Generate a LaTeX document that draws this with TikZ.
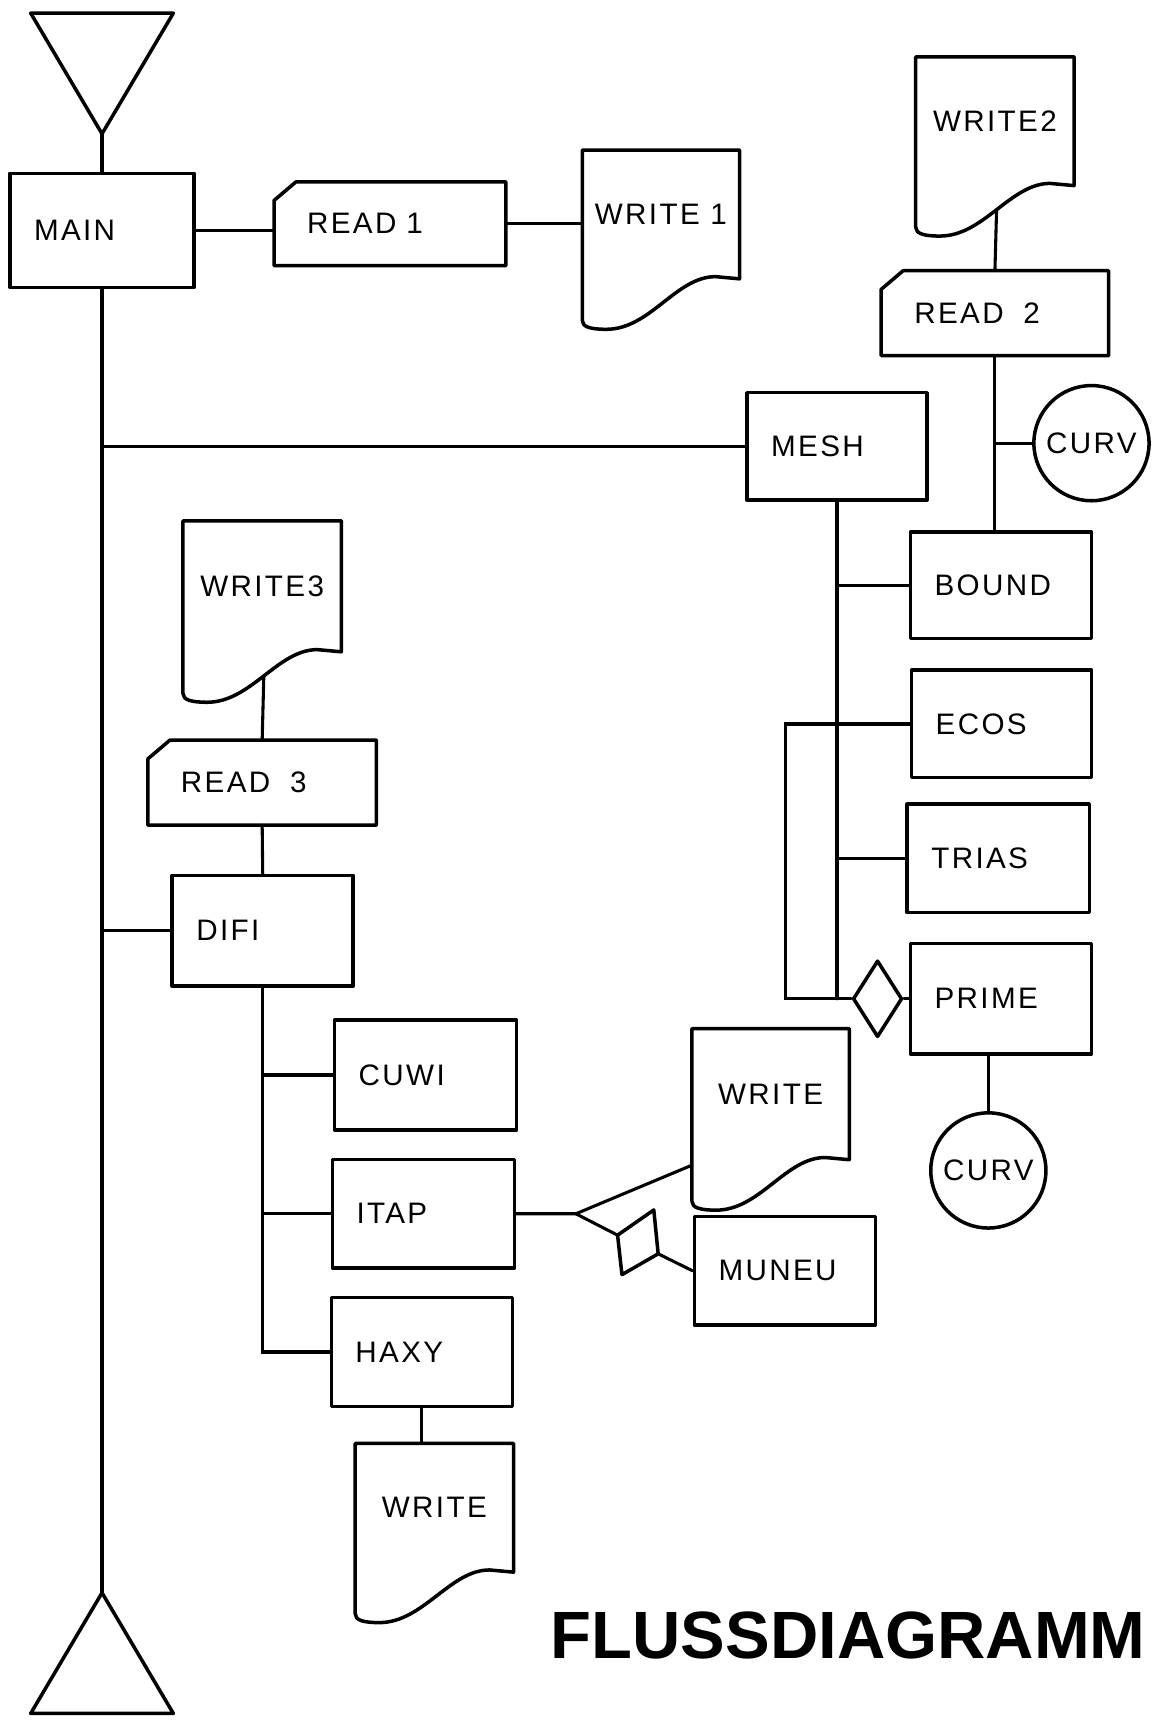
\documentclass[tikz,border=0pt]{standalone}
\usepackage{fontspec}
\setmainfont{Liberation Sans}
\newfontfamily\stencil{Liberation Sans}[LetterSpace=8.0]
\usepackage{tikz}
\usetikzlibrary{shapes.geometric, calc}

\tikzset{
  outline/.style={line width=3.2pt, line join=round, line cap=round},
  link/.style={line width=2.8pt, line cap=round},
  lettering/.style={font=\stencil\fontsize{27}{30}\selectfont},
  procbox/.style 2 args={rectangle, draw, outline, lettering, align=left,
    inner xsep=22pt, inner ysep=0pt, text width=#1-44pt, minimum width=#1, minimum height=#2},
  readbox/.style 2 args={rectangle, lettering, align=left,
    inner xsep=30pt, inner ysep=0pt, text width=#1-60pt, minimum width=#1, minimum height=#2},
  docbox/.style 2 args={rectangle, lettering, align=center, inner sep=0pt,
    minimum width=#1, minimum height=#2},
  curvbox/.style={circle, draw, outline, lettering, inner sep=0pt, minimum size=105pt},
  decision/.style={diamond, draw, outline, inner sep=0pt, minimum width=45pt, minimum height=70pt},
  headline/.style={font=\fontsize{61}{66}\selectfont\bfseries, inner sep=0pt}
}

% card outline with cut corner
\newcommand{\readframe}[1]{%
  \draw[outline] (#1.south west) -- ($(#1.north west)+(0,17)$) -- ($(#1.north west)+(20,0)$)
    -- (#1.north east) -- (#1.south east) -- cycle;}
% document outline with wavy bottom
\newcommand{\docframe}[1]{%
  \draw[outline] ($(#1.south west)+(0,38)$) -- (#1.north west) -- (#1.north east)
    -- (#1.south east) -- ($(#1.south east)+(-22,-2)$)
    .. controls ($(#1.south east)+(-58,-2)$) and ($(#1.south west)+(62,46)$)
    .. ($(#1.south west)+(22,46)$) coordinate[pos=0.5] (#1-tail)
    .. controls ($(#1.south west)+(8,46)$) and ($(#1.south west)+(0,44)$)
    .. ($(#1.south west)+(0,38)$);}

\begin{document}
\begin{tikzpicture}[x=1pt,y=-1pt]
  \useasboundingbox (0,0) rectangle (1053,1568);
  \fill[white] (0,0) rectangle (1053,1568);

  % start and end
  \coordinate (tl) at (28,12);
  \coordinate (tr) at (158,12);
  \coordinate (ta) at (93,122);
  \coordinate (ba) at (93,1452);
  \coordinate (bl) at (28,1562);
  \coordinate (br) at (158,1562);
  \draw[outline] (tl) -- (tr) -- (ta) -- cycle;
  \draw[outline] (ba) -- (br) -- (bl) -- cycle;

  % MAIN
  \node[procbox={168pt}{104pt}] (main) at (93,210) {MAIN};
  \node[readbox={211pt}{76pt}] (read1) at (355.5,204) {READ 1};
  \readframe{read1}
  \node[docbox={143pt}{117pt}] (write1) at (602.5,195.5) {WRITE 1};
  \docframe{write1}
  \draw[link] (ta) -- (main.north);
  \draw[link] (main.south) -- (ba);
  \draw[link] (main.east) -- (main.east -| read1.west);
  \draw[link] (read1.east) -- (read1.east -| write1.west);

  % MESH
  \node[docbox={144pt}{117pt}] (write2) at (907,110.5) {WRITE2};
  \docframe{write2}
  \node[readbox={207pt}{77pt}] (read2) at (907,285.5) {READ\ \ 2};
  \readframe{read2}
  \node[curvbox] (curv1) at (995,404) {CURV};
  \node[procbox={164pt}{98pt}] (mesh) at (763,407) {MESH};
  \node[procbox={165pt}{97pt}] (bound) at (912.5,533.5) {BOUND};
  \node[procbox={164pt}{98pt}] (ecos) at (913,660) {ECOS};
  \node[procbox={166pt}{99pt}] (trias) at (910,782.5) {TRIAS};
  \node[procbox={165pt}{101pt}] (prime) at (912.5,910.5) {PRIME};
  \node[decision] (prdia) at (800,910.5) {};
  \node[curvbox] (curv2) at (901,1067) {CURV};
  \coordinate (loopx) at (716,0);
  \draw[link] (mesh.west -| main.south) -- (mesh.west);
  \draw[link] (write2-tail) -- (read2.north);
  \draw[link] (read2.south) -- (read2.south |- bound.north);
  \draw[link] (curv1.west -| read2.south) -- (curv1.west);
  \draw[link] (mesh.south) -- (mesh.south |- prdia.west);
  \draw[link] (mesh.south |- bound.west) -- (bound.west);
  \draw[link] (mesh.south |- trias.west) -- (trias.west);
  \draw[link] (ecos.west) -- (ecos.west -| loopx) |- (prdia.west);
  \draw[link] (prdia.east) -- (prime.west);
  \draw[link] (curv2.north |- prime.south) -- (curv2.north);

  % DIFI
  \node[docbox={144pt}{119pt}] (write3) at (239,534.5) {WRITE3};
  \docframe{write3}
  \node[readbox={208pt}{77pt}] (read3) at (239,713.5) {READ\ \ 3};
  \readframe{read3}
  \node[procbox={165pt}{101pt}] (difi) at (239.5,848.5) {DIFI};
  \node[procbox={166pt}{100pt}] (cuwi) at (388,980) {CUWI};
  \node[procbox={166pt}{99pt}] (itap) at (386,1106.5) {ITAP};
  \node[procbox={165pt}{99pt}] (haxy) at (384.5,1232.5) {HAXY};
  \node[docbox={144pt}{117pt}] (wrbot) at (396,1374.5) {WRITE};
  \docframe{wrbot}
  \draw[link] (difi.west -| main.south) -- (difi.west);
  \draw[link] (write3-tail) -- (read3.north);
  \draw[link] (read3.south) -- (difi.north);
  \draw[link] (difi.south) -- (difi.south |- haxy.west) -- (haxy.west);
  \draw[link] (difi.south |- cuwi.west) -- (cuwi.west);
  \draw[link] (difi.south |- itap.west) -- (itap.west);
  \draw[link] (haxy.south) -- (haxy.south |- wrbot.north);

  % ITAP outputs
  \node[docbox={143pt}{119pt}] (wrfour) at (702.5,997.5) {WRITE};
  \docframe{wrfour}
  \node[procbox={165pt}{99pt}] (muneu) at (715.5,1158.5) {MUNEU};
  \coordinate (fork) at (525,1106.5);
  \coordinate (qa) at (563,1126);
  \coordinate (qb) at (596,1103);
  \coordinate (qc) at (600,1143);
  \coordinate (qd) at (567,1162);
  \draw[outline] (qa) -- (qb) -- (qc) -- (qd) -- cycle;
  \draw[link] (itap.east) -- (fork) -- ($(wrfour.south west)+(0,5)$);
  \draw[link] (fork) -- (qa);
  \draw[link] (qc) -- (muneu.west);

  \node[headline, anchor=base west] (title) at (502,1512) {FLUSSDIAGRAMM};
\end{tikzpicture}
\end{document}
